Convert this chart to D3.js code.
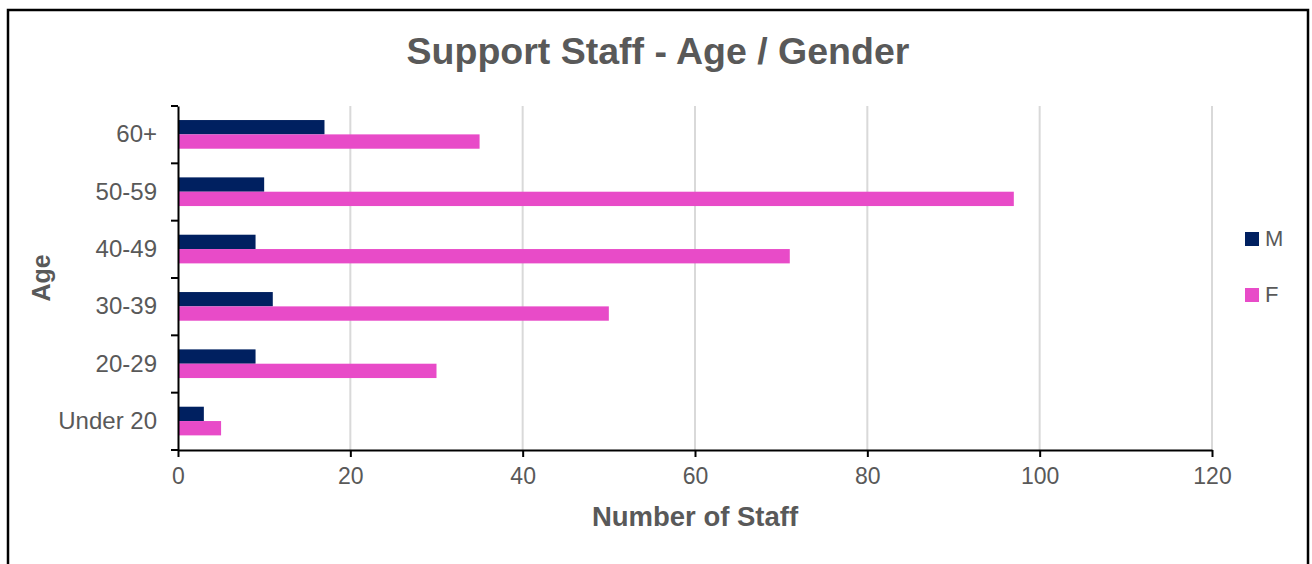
<!DOCTYPE html>
<html>
<head>
<meta charset="utf-8">
<script src="https://cdn.jsdelivr.net/npm/d3@7"></script>
<style>
  body { margin: 0; background: #fff; }
  svg { display: block; font-family: "Liberation Sans", Arial, sans-serif; }
  .axis path, .axis line { stroke: #000; stroke-width: 2; }
  .axis text { fill: #595959; }
</style>
</head>
<body>
<svg id="chart" width="1312" height="564"></svg>
<script>
// data
const ageGroups = ['60+', '50-59', '40-49', '30-39', '20-29', 'Under 20'];
const maleCounts = [17, 10, 9, 11, 9, 3];
const femaleCounts = [35, 97, 71, 50, 30, 5];
const seriesNames = ['M', 'F'];
const xTicks = [0, 20, 40, 60, 80, 100, 120];

const colors = { M: '#002060', F: '#e84bc8' };

const svg = d3.select('#chart');

// outer frame
svg.append('rect')
  .attr('x', 8).attr('y', 10)
  .attr('width', 1300).attr('height', 570)
  .attr('fill', 'none')
  .attr('stroke', '#000')
  .attr('stroke-width', 2.5);

const margin = { top: 106, left: 178, right: 100, bottom: 114 };
const width = 1212 - margin.left;
const height = 450 - margin.top;

const g = svg.append('g')
  .attr('transform', `translate(${margin.left},${margin.top})`);

const x = d3.scaleLinear().domain([0, 120]).range([0, width]);

const y = d3.scaleBand()
  .domain(ageGroups)
  .range([0, height]);

const inner = d3.scaleBand()
  .domain(seriesNames)
  .range([y.bandwidth() * 0.245, y.bandwidth() * 0.745]);

// gridlines
g.selectAll('.grid')
  .data(xTicks.slice(1))
  .enter()
  .append('line')
  .attr('class', 'grid')
  .attr('x1', d => x(d)).attr('x2', d => x(d))
  .attr('y1', 0).attr('y2', height)
  .attr('stroke', '#d9d9d9')
  .attr('stroke-width', 2);

// bars
const rows = ageGroups.map((a, i) => ({ age: a, M: maleCounts[i], F: femaleCounts[i] }));

seriesNames.forEach(s => {
  g.selectAll('.bar-' + s)
    .data(rows)
    .enter()
    .append('rect')
    .attr('class', 'bar-' + s)
    .attr('x', 0)
    .attr('y', d => y(d.age) + inner(s))
    .attr('width', d => x(d[s]))
    .attr('height', inner.bandwidth())
    .attr('fill', colors[s]);
});

// axes
const yAxis = g.append('g')
  .attr('class', 'axis')
  .call(d3.axisLeft(y).tickSize(0).tickPadding(21));
yAxis.selectAll('text').style('font-size', '24px');

// category boundary ticks
const bounds = d3.range(ageGroups.length + 1).map(i => i * y.step());
yAxis.selectAll('.bound')
  .data(bounds)
  .enter()
  .append('line')
  .attr('class', 'bound')
  .attr('x1', -7).attr('x2', 0)
  .attr('y1', d => d).attr('y2', d => d)
  .attr('stroke', '#000')
  .attr('stroke-width', 2);

const xAxis = g.append('g')
  .attr('class', 'axis')
  .attr('transform', `translate(0,${height})`)
  .call(d3.axisBottom(x).tickValues(xTicks).tickSize(7).tickSizeOuter(0).tickPadding(11));
xAxis.selectAll('text').style('font-size', '23px');

// title and axis labels
svg.append('text')
  .attr('x', 658).attr('y', 64)
  .attr('text-anchor', 'middle')
  .attr('fill', '#595959')
  .style('font-size', '37.5px')
  .style('font-weight', 'bold')
  .text('Support Staff - Age / Gender');

svg.append('text')
  .attr('x', margin.left + width / 2).attr('y', 526)
  .attr('text-anchor', 'middle')
  .attr('fill', '#595959')
  .style('font-size', '27.5px')
  .style('font-weight', 'bold')
  .text('Number of Staff');

svg.append('text')
  .attr('transform', `translate(50,${margin.top + height / 2}) rotate(-90)`)
  .attr('text-anchor', 'middle')
  .attr('fill', '#595959')
  .style('font-size', '25px')
  .style('font-weight', 'bold')
  .text('Age');

// legend
const legend = svg.append('g').attr('transform', 'translate(1245,232)');
seriesNames.forEach((s, i) => {
  const item = legend.append('g').attr('transform', `translate(0,${i * 56})`);
  item.append('rect')
    .attr('width', 14).attr('height', 14)
    .attr('fill', colors[s]);
  item.append('text')
    .attr('x', 20).attr('y', 14)
    .attr('fill', '#595959')
    .style('font-size', '22px')
    .text(s);
});
</script>
</body>
</html>
